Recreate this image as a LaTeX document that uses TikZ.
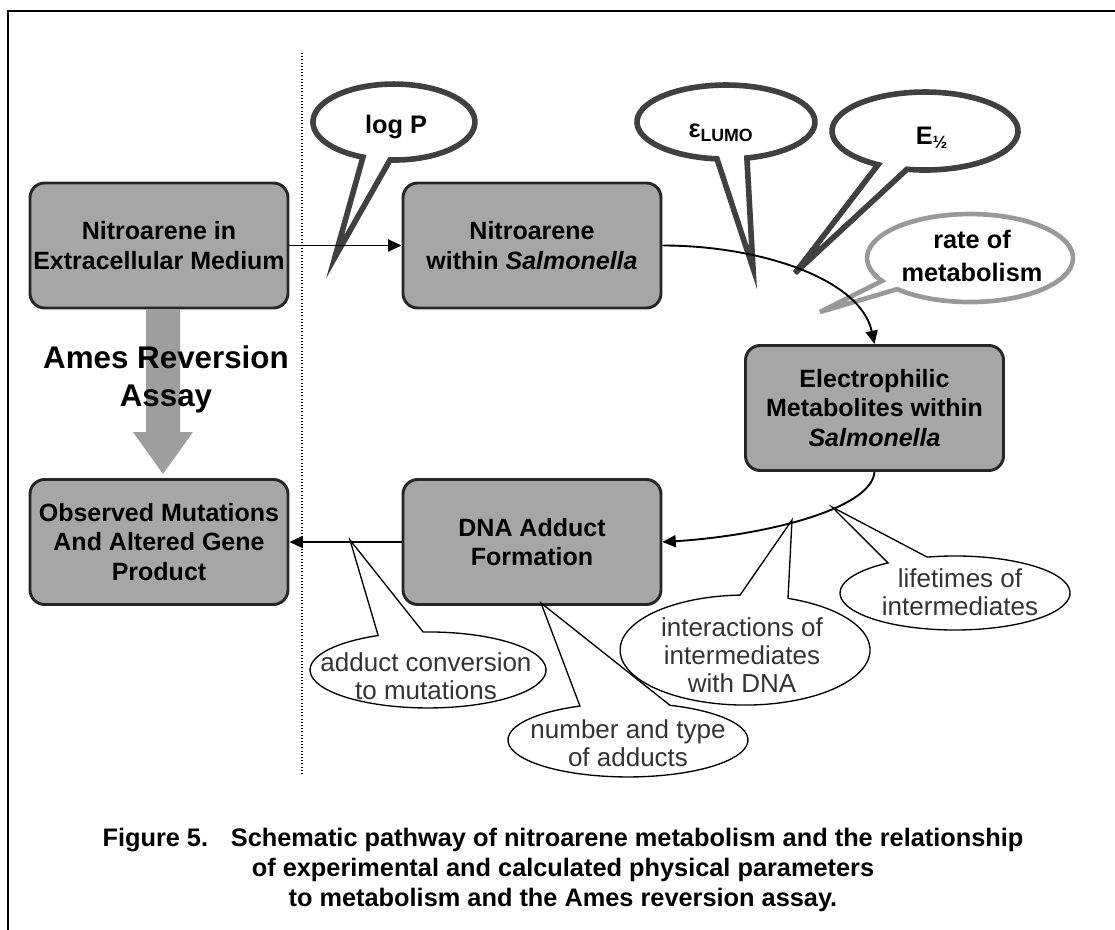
\documentclass[tikz,border=0pt]{standalone}
\usepackage{fontspec}
\setmainfont{Liberation Sans}
\usetikzlibrary{arrows.meta,calc}
\tikzset{
 box/.style={draw=black!85, line width=2.2pt, fill=black!35, rounded corners=11pt,
   minimum width=193.5pt, minimum height=93.75pt, inner sep=0pt, align=center,
   font=\fontsize{18.75pt}{22pt}\selectfont\bfseries},
 conn/.style={line width=1.4pt, -{Triangle[length=10pt,width=9pt]}},
 topbub/.style={draw=black!75, line width=4.2pt, fill=white},
 ratebub/.style={draw=black!40, line width=3.5pt, fill=white},
 lowbub/.style={draw=black, line width=1pt, fill=white},
 toptext/.style={font=\fontsize{19pt}{24.75pt}\selectfont\bfseries, align=center, inner sep=0pt},
 lowtext/.style={font=\fontsize{19.5pt}{21pt}\selectfont, text=black!80, align=center, inner sep=0pt},
}
\begin{document}
\begin{tikzpicture}[x=0.75pt,y=-0.75pt]
\useasboundingbox (0,0) rectangle (1115,930);
\fill[white] (0,0) rectangle (1115,930);
% frame
\draw[line width=1.5pt] (8,930) -- (8,11) -- (1115,11);
% dotted divider
\coordinate (dTop) at (302,53);
\coordinate (dBot) at (302,776);
\draw[line width=0.8pt, dash pattern=on 0.8pt off 1.6pt] (dTop) -- (dBot);

% boxes
\node[box] (A) at (159,245.5) {Nitroarene in\\Extracellular Medium};
\node[box] (B) at (532,245.5) {Nitroarene\\within \textit{Salmonella}};
\node[box] (C) at (874.5,408) {Electrophilic\\Metabolites within\\\textit{Salmonella}};
\node[box] (D) at (532,542) {DNA Adduct\\Formation};
\node[box] (E) at (159,542) {Observed Mutations\\And Altered Gene\\Product};

% Ames big arrow
\coordinate (amesS) at ($(A.south)+(4,0)$);
\coordinate (amesT) at ($(E.north)+(4,-4)$);
\fill[black!38] ($(amesS)+(-17,0)$) -- ($(amesS)+(17,0)$) -- ($(amesT)+(17,-42)$)
  -- ($(amesT)+(30,-42)$) -- (amesT) -- ($(amesT)+(-30,-42)$) -- ($(amesT)+(-17,-42)$) -- cycle;
\node[font=\fontsize{23.5pt}{28.5pt}\selectfont\bfseries, align=center, inner sep=0pt] (ames) at (166,379) {Ames Reversion\\Assay};

% top callouts
\coordinate (tLogP) at (335,257);
\draw[topbub] (390.0,160.0) arc[start angle=92.8, end angle=-247.5, x radius=81, y radius=38] -- (tLogP) -- cycle;
\node[toptext] (logP) at (396,127) {log P};

\coordinate (tLumo) at (753,268);
\draw[topbub] (746.9,158.0) arc[start angle=76.4, end angle=-264.2, x radius=89, y radius=37] -- (tLumo) -- cycle;
\node[toptext] (lumo) at (721,133) {ε\textsubscript{LUMO}};

\coordinate (tEh) at (795,273);
\draw[topbub] (878.1,164.7) arc[start angle=120.3, end angle=461.2, x radius=93, y radius=39] -- (tEh) -- cycle;
\node[toptext] (ehalf) at (932,138) {E\textsubscript{½}};

\coordinate (tRate) at (820,312);
\draw[ratebub] (882.0,280.9) arc[start angle=148.7, end angle=495, x radius=103, y radius=44] -- (tRate) -- cycle;
\node[toptext] (rate) at (972,256) {rate of\\metabolism};

% lower callouts
\coordinate (tAdd) at (350,540);
\draw[lowbub] (423.1,632.0) arc[start angle=267.6, end angle=605, x radius=118, y radius=38] -- (tAdd) -- cycle;
\node[lowtext] (adduct) at (426,676) {adduct conversion\\to mutations};

\coordinate (tNum) at (541,603);
\draw[lowbub] (670.0,705.3) arc[start angle=290.5, end angle=606.4, x radius=120, y radius=37] -- (tNum) -- cycle;
\node[lowtext] (number) at (628,743.5) {number and type\\of adducts};

\coordinate (tInt) at (792,520);
\draw[lowbub] (788.0,598.4) arc[start angle=290.1, end angle=627.7, x radius=125, y radius=55] -- (tInt) -- cycle;
\node[lowtext] (inter) at (742,655) {interactions of\\intermediates\\with DNA};

\coordinate (tLife) at (832,507);
\draw[lowbub] (927.2,557.1) arc[start angle=256, end angle=594.4, x radius=115, y radius=37] -- (tLife) -- cycle;
\node[lowtext] (life) at (960,592) {lifetimes of\\intermediates};

% connectors
\draw[conn] (A.east) -- (B.west);
\draw[conn] (B.east) .. controls +(98,0) and +(-14,-65) .. (C.north);
\draw[conn] (C.south) .. controls +(-3,38) and +(98,-6) .. (D.east);
\draw[conn] (D.west) -- (E.east);

% caption
\node[font=\fontsize{19pt}{22.5pt}\selectfont\bfseries, align=center, inner sep=0pt] (cap) at (563,870)
 {Figure 5.\hspace{0.9em}Schematic pathway of nitroarene metabolism and the relationship\\of experimental and calculated physical parameters\\to metabolism and the Ames reversion assay.};
\end{tikzpicture}
\end{document}
